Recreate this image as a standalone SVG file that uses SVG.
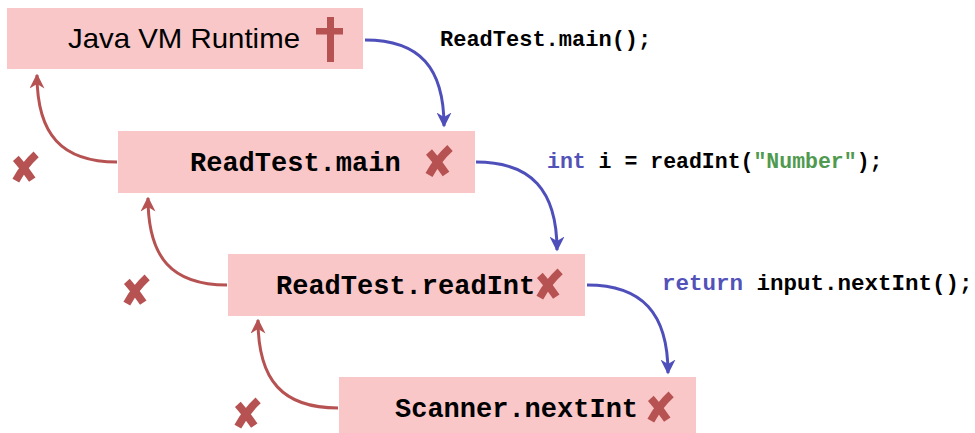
<svg xmlns="http://www.w3.org/2000/svg" xmlns:xlink="http://www.w3.org/1999/xlink" width="975" height="433" viewBox="0 0 975 433">
<defs>
<style>
.box{fill:#f9c7c8;}
.mono{font-family:"Liberation Mono","DejaVu Sans Mono",monospace;font-weight:bold;fill:#000;}
.big{font-size:27px;}
.lbl{font-size:22px;}
.kw{fill:#5252b8;}
.str{fill:#4f9a4f;}
.call{fill:none;stroke:#4f4fbb;stroke-width:3;}
.ret{fill:none;stroke:#b65352;stroke-width:3;}
.xmark{stroke:#b65352;stroke-linecap:butt;fill:none;}
</style>
<marker id="ab" viewBox="0 0 10 10" refX="9" refY="5" markerWidth="5" markerHeight="5" orient="auto" markerUnits="strokeWidth">
<path d="M0,0 L10,5 L0,10 L3,5 Z" fill="#4f4fbb"/>
</marker>
<marker id="ar" viewBox="0 0 10 10" refX="9" refY="5" markerWidth="5" markerHeight="5" orient="auto" markerUnits="strokeWidth">
<path d="M0,0 L10,5 L0,10 L3,5 Z" fill="#b65352"/>
</marker>
<symbol id="x" viewBox="0 0 30 32" overflow="visible">
<path class="xmark" d="M5,6 Q14,16 22,28" stroke-width="8"/>
<path class="xmark" d="M26,2 Q14,13 5,29" stroke-width="8"/>
</symbol>
</defs>
<g id="connectors">
<path class="call" d="M365,40 C420,40 444,68 444,126" marker-end="url(#ab)"/>
<path class="call" d="M476,162 C531,162 557,190 557,250" marker-end="url(#ab)"/>
<path class="call" d="M587,285 C642,285 668,313 668,373" marker-end="url(#ab)"/>
<path class="ret" d="M117,162 C62,162 37,135 37,75" marker-end="url(#ar)"/>
<path class="ret" d="M227,285 C172,285 148,258 148,198" marker-end="url(#ar)"/>
<path class="ret" d="M338,408 C283,408 258,381 258,320" marker-end="url(#ar)"/>
</g>
<g id="node-jvm">
<rect class="box" x="7" y="8" width="356" height="61"/>
<text x="68" y="48" font-family="Liberation Sans, Arial, sans-serif" font-size="28.5" textLength="232" lengthAdjust="spacingAndGlyphs" fill="#000">Java VM Runtime</text>
<rect x="327" y="17" width="7" height="45" fill="#b65352"/>
<rect x="316" y="28" width="27" height="6.5" fill="#b65352"/>
</g>
<g id="node-main">
<rect class="box" x="118" y="131" width="357" height="62"/>
<text class="mono big" x="190" y="171">ReadTest.main</text>
<use xlink:href="#x" x="424" y="146" width="30" height="32"/>
</g>
<g id="node-readint">
<rect class="box" x="228" y="254" width="357" height="62"/>
<text class="mono big" x="276" y="294">ReadTest.readInt</text>
<use xlink:href="#x" x="535" y="269" width="29" height="32"/>
</g>
<g id="node-nextint">
<rect class="box" x="339" y="377" width="357" height="62"/>
<text class="mono big" x="395" y="417">Scanner.nextInt</text>
<use xlink:href="#x" x="646" y="392" width="29" height="32"/>
</g>
<g id="marks">
<use xlink:href="#x" x="11" y="152" width="29" height="32"/>
<use xlink:href="#x" x="122" y="275" width="29" height="32"/>
<use xlink:href="#x" x="233" y="398" width="29" height="32"/>
</g>
<g id="labels">
<text class="mono lbl" x="440" y="46">ReadTest.main();</text>
<text class="mono lbl" x="547" y="168" style="font-size:21.5px"><tspan class="kw">int</tspan> i = readInt(<tspan class="str">"Number"</tspan>);</text>
<text class="mono lbl" x="662" y="290" style="font-size:22.5px"><tspan class="kw">return</tspan> input.nextInt();</text>
</g>
</svg>
